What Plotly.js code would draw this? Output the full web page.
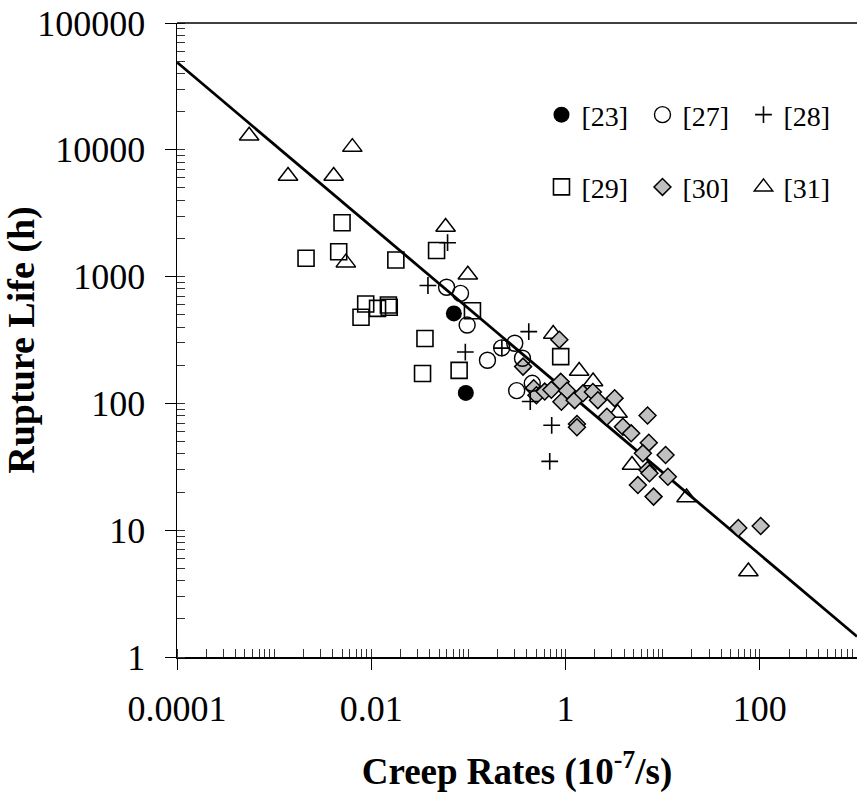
<!DOCTYPE html>
<html>
<head>
<meta charset="utf-8">
<script src="https://cdn.plot.ly/plotly-3.0.1.min.js"></script>
<style>html,body{margin:0;padding:0;background:#fff;}#chart{width:857px;height:798px;}</style>
</head>
<body>
<div id="chart"></div>
<script>
// ---- data (creep rate in 10^-7/s, rupture life in h) ----
const ref23X = [0.0708, 0.094];
const ref23Y = [512, 121];

const ref27X = [0.0596, 0.0829, 0.097, 0.300, 0.220, 0.157, 0.360, 0.454, 0.314];
const ref27Y = [824, 738, 415, 298, 274, 219, 227, 144, 126];

const ref28X = [0.0383, 0.061, 0.0929, 0.221, 0.418, 0.433, 0.720, 0.687];
const ref28Y = [851, 1850, 254, 273, 368, 103.5, 67.2, 34.9];

const ref29X = [0.0050, 0.00213, 0.00462, 0.0179, 0.0470, 0.00876, 0.00784, 0.0116, 0.0150, 0.0153, 0.110, 0.0357, 0.0337, 0.0802, 0.891];
const ref29Y = [2661, 1394, 1572, 1352, 1606, 608, 478, 562, 597, 573, 538, 325, 172, 182, 234];

const ref30X = [0.863, 0.365, 0.470, 0.501, 0.610, 0.714, 0.891, 1.035, 0.906, 1.24, 1.51, 1.91, 2.15, 3.20, 2.66, 3.89, 4.74, 6.98, 1.31, 1.31, 7.19, 6.25, 10.7, 6.98, 7.31, 11.3, 5.55, 8.05, 60, 102];
const ref30Y = [318, 195, 131.6, 116, 124, 128, 148, 126, 103, 106, 120, 123, 106, 110, 78.5, 65.5, 58.1, 80.3, 68.8, 64.8, 49, 40.4, 39.2, 29.8, 28.1, 26.4, 22.7, 18.4, 10.4, 10.8];

const ref31X = [0.000553, 0.00638, 0.00139, 0.0041, 0.00547, 0.0582, 0.0986, 0.746, 1.38, 1.92, 3.43, 4.83, 17.6, 76.2];
const ref31Y = [12900, 10500, 6210, 6210, 1288, 2460, 1035, 352, 180, 149, 84, 32.7, 18.1, 4.72];

// fitted line end points
const fitX = [0.0001, 1000];
const fitY = [49000, 1.45];

// tick labels
const xTickVals = [0.0001, 0.01, 1, 100];
const xTickText = ['0.0001', '0.01', '1', '100'];
const yTickVals = [1, 10, 100, 1000, 10000, 100000];
const yTickText = ['1', '10', '100', '1000', '10000', '100000'];

const FONT = '"Liberation Serif", "Times New Roman", Times, serif';
const NB = '\u00a0';

function sc(x, y, name, symbol, size, fill, lw, legend, rank) {
  return {
    type: 'scatter', mode: 'markers', x: x, y: y, name: name, legend: legend, legendrank: rank,
    marker: {symbol: symbol, size: size, color: fill, line: {color: '#000', width: lw}},
    hoverinfo: 'x+y'
  };
}

const traces = [
  {type: 'scatter', mode: 'lines', x: fitX, y: fitY, line: {color: '#000', width: 2.8}, showlegend: false, hoverinfo: 'skip'},
  sc(ref29X, ref29Y, '[29]', 'square-open', 16, '#000', 1.6, 'legend2', 4),
  sc(ref31X, ref31Y, '[31]', 'triangle-up-open', 17, '#000', 1.5, 'legend2', 6),
  sc(ref30X, ref30Y, '[30]', 'diamond', 13, '#c0c0c0', 1.5, 'legend2', 5),
  sc(ref27X, ref27Y, '[27]', 'circle-open', 16, '#000', 1.4, 'legend', 2),
  sc(ref28X, ref28Y, '[28]', 'cross-thin-open', 12, '#000', 1.6, 'legend', 3),
  sc(ref23X, ref23Y, '[23]', 'circle', 16, '#000', 0, 'legend', 1)
];

const legendCommon = {
  orientation: 'h', xref: 'paper', yref: 'paper', xanchor: 'left', yanchor: 'middle',
  font: {family: FONT, size: 28, color: '#000'}, bgcolor: 'rgba(0,0,0,0)', borderwidth: 0,
  entrywidth: 56, entrywidthmode: 'pixels', traceorder: 'normal', itemclick: false, itemdoubleclick: false
};

const layout = {
  width: 857, height: 798,
  margin: {l: 177, r: 0, t: 23, b: 141, pad: 0},
  paper_bgcolor: '#fff', plot_bgcolor: '#fff',
  font: {family: FONT, color: '#000'},
  showlegend: true,
  legend: Object.assign({}, legendCommon, {x: 0.536, y: 0.855}),
  legend2: Object.assign({}, legendCommon, {x: 0.536, y: 0.741}),
  xaxis: {
    type: 'log', range: [-4, 3],
    showgrid: false, zeroline: false,
    showline: true, linecolor: '#000', linewidth: 1.5,
    tickmode: 'array', tickvals: xTickVals, ticktext: xTickText,
    ticks: 'outside', ticklen: 11, tickwidth: 1, tickcolor: '#000',
    ticklabelstandoff: 8,
    tickfont: {family: FONT, size: 36, color: '#000'},
    minor: {ticks: 'inside', ticklen: 8, tickwidth: 1, tickcolor: '#333', dtick: 'D1', showgrid: false},
    title: {text: '<b>Creep Rates (10<sup>-7</sup>/s)</b>' + NB.repeat(5), font: {family: FONT, size: 37, color: '#000'}, standoff: 30},
    automargin: false
  },
  yaxis: {
    type: 'log', range: [0, 5],
    showgrid: false, zeroline: false,
    showline: true, linecolor: '#000', linewidth: 1.5,
    tickmode: 'array', tickvals: yTickVals, ticktext: yTickText,
    ticks: 'outside', ticklen: 11, tickwidth: 1, tickcolor: '#000',
    ticklabelstandoff: 12,
    tickfont: {family: FONT, size: 36, color: '#000'},
    minor: {ticks: 'inside', ticklen: 8, tickwidth: 1, tickcolor: '#333', dtick: 'D1', showgrid: false},
    title: {text: '<b>Rupture Life (h)</b>', font: {family: FONT, size: 38, color: '#000'}, standoff: 12},
    automargin: false
  },
  shapes: [
    {type: 'line', xref: 'paper', yref: 'paper', x0: 0, x1: 1, y0: 1, y1: 1, line: {color: '#000', width: 1.5}}
  ]
};

Plotly.newPlot('chart', traces, layout, {staticPlot: true, displayModeBar: false});
</script>
</body>
</html>
